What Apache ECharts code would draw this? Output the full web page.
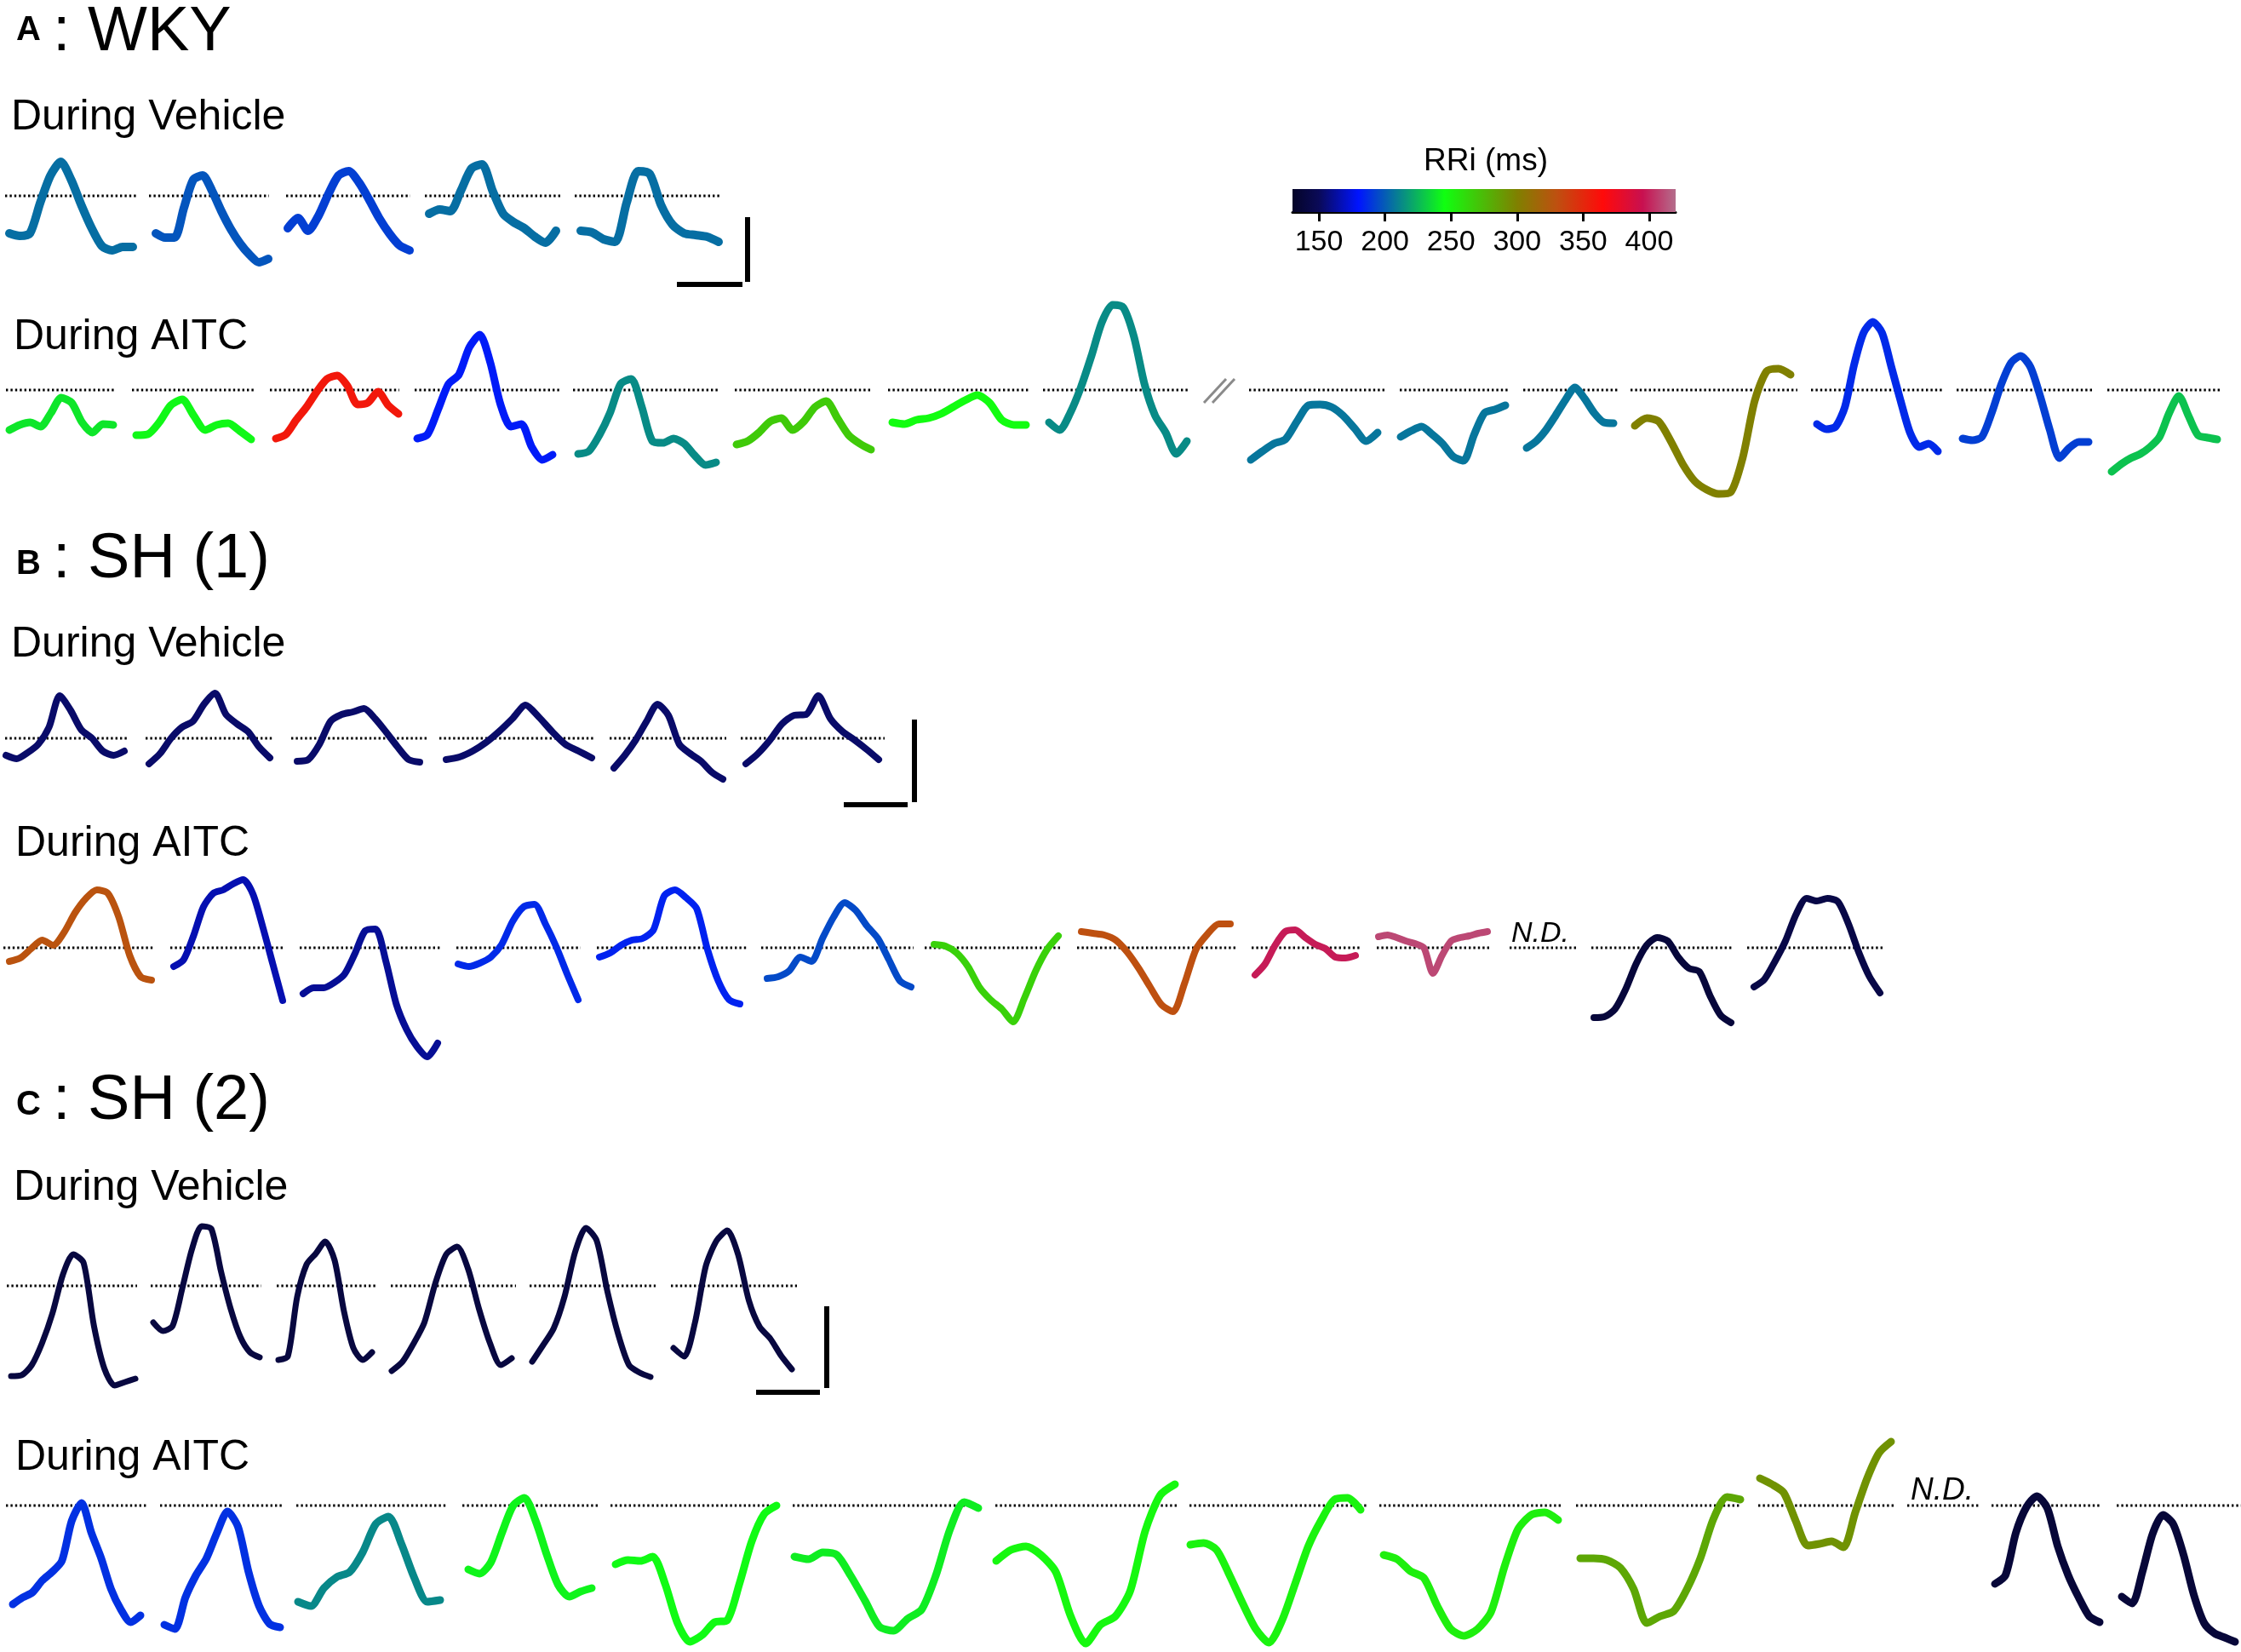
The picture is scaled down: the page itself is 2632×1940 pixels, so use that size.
<!DOCTYPE html>
<html><head><meta charset="utf-8">
<script src="https://cdn.jsdelivr.net/npm/echarts@6/dist/echarts.min.js"></script>
<style>html,body{margin:0;padding:0;background:#fff}#c{width:2632px;height:1940px}</style>
</head><body><div id="c"></div>
<script>
// ================= DATA =================
// Colour scale ticks (RRi, ms)
const rriTicks = [150, 200, 250, 300, 350, 400];
const rriMin = 130, rriMax = 420;

// Waveform amplitudes (relative to dotted baseline, up = positive) and RRi (ms) of each beat
// Panel A (WKY) - during vehicle
const aVehValues = [
  [-44,-47,-44,-8,24,40,19,-11,-38,-59,-64,-60,-60],
  [-44,-49,-49,-14,19,24,6,-18,-39,-56,-69,-78,-74],
  [-38,-26,-41,-24,2,24,29,16,-4,-26,-44,-58,-64],
  [-21,-16,-18,6,32,37,6,-21,-31,-38,-48,-55,-41],
  [-41,-43,-51,-54,-8,29,26,-11,-34,-44,-46,-48,-54]
];
const aVehRRi = [205, 198, 192, 205, 205];

// Panel A (WKY) - during AITC
const aAitcValues = [
  [-47,-41,-38,-43,-27,-9,-15,-38,-50,-40,-41],
  [-53,-52,-38,-18,-11,-30,-47,-41,-39,-48,-58],
  [-57,-52,-35,-20,-2,13,17,5,-17,-15,-2,-18,-28],
  [-57,-52,-23,7,18,50,65,33,-17,-43,-40,-67,-82,-76],
  [-75,-72,-53,-27,7,13,-20,-60,-62,-57,-63,-77,-88,-85],
  [-64,-60,-50,-37,-33,-47,-37,-20,-13,-33,-53,-63,-70],
  [-38,-40,-35,-33,-28,-20,-12,-6,-15,-35,-41,-41],
  [-38,-47,-27,3,40,80,100,97,63,7,-30,-50,-75,-60],
  [-82,-72,-63,-58,-37,-18,-17,-20,-30,-45,-60,-50],
  [-55,-48,-43,-52,-63,-78,-83,-53,-27,-23,-18],
  [-68,-60,-47,-30,-12,3,-10,-27,-38,-39],
  [-42,-33,-37,-60,-87,-107,-117,-122,-120,-80,-13,22,25,18],
  [-40,-46,-43,-20,30,67,80,67,27,-13,-50,-67,-63,-72],
  [-57,-59,-55,-27,7,32,40,27,-7,-47,-80,-68,-61,-61],
  [-96,-87,-80,-75,-67,-55,-27,-7,-30,-53,-56,-58]
];
const aAitcRRi = [238, 243, 358, 182, 213, 268, 246, 213, 207, 207, 207, 300, 186, 192, 228];

// Panel B (SH 1) - during vehicle
const bVehValues = [
  [-20,-24,-17,-7,13,50,33,10,0,-15,-20,-15],
  [-30,-18,0,13,20,40,53,28,17,8,-10,-23],
  [-27,-25,-7,20,28,31,35,23,7,-10,-25,-28],
  [-25,-22,-15,-5,8,23,39,25,8,-7,-15,-23],
  [-35,-20,-2,20,40,27,-7,-18,-27,-40,-48],
  [-30,-18,-2,17,27,28,50,23,8,-2,-13,-25]
];
const bVehRRi = [153, 153, 153, 153, 153, 153];

// Panel B (SH 1) - during AITC
const bAitcValues = [
  [-16,-12,-1,9,3,18,41,58,68,64,36,-9,-34,-38],
  [-22,-14,14,48,64,68,75,80,63,24,-19,-62],
  [-54,-47,-47,-41,-31,-7,20,22,-16,-66,-96,-116,-128,-112],
  [-19,-22,-18,-11,4,31,48,51,28,1,-31,-61],
  [-11,-6,3,9,11,21,61,68,59,46,-2,-39,-61,-66],
  [-36,-34,-27,-11,-16,11,36,53,44,26,11,-14,-39,-46],
  [4,2,-6,-22,-46,-61,-72,-87,-59,-27,-2,14],
  [19,17,15,9,-5,-24,-46,-67,-75,-42,-2,16,28,28],
  [-32,-19,3,19,21,12,4,-1,-11,-12,-9],
  [13,15,12,8,5,0,-30,-9,8,12,14,17,19],
  [-82,-81,-72,-49,-19,3,12,8,-11,-24,-28,-56,-79,-88],
  [-46,-37,-16,8,39,58,55,58,54,28,-6,-34,-53]
];
const bAitcRRi = [328, 166, 161, 186, 184, 195, 265, 330, 398, 410, 138, 143];

// Panel C (SH 2) - during vehicle
const cVehValues = [
  [-106,-105,-93,-67,-32,13,37,27,-47,-97,-117,-113,-109],
  [-43,-53,-47,-3,43,70,67,17,-27,-60,-78,-84],
  [-87,-83,-13,25,38,52,30,-30,-73,-87,-78],
  [-100,-89,-68,-43,3,37,46,20,-27,-67,-93,-85],
  [-89,-70,-50,-13,40,68,53,-7,-57,-93,-102,-107],
  [-73,-83,-43,23,53,65,37,-17,-48,-62,-82,-98]
];
const cVehRRi = [140, 140, 140, 140, 140, 140];

// Panel C (SH 2) - during AITC
const cAitcValues = [
  [-116,-108,-102,-88,-78,-65,-18,3,-32,-62,-98,-122,-137,-129],
  [-140,-145,-108,-82,-62,-32,-7,-25,-78,-118,-139,-143],
  [-113,-118,-97,-84,-78,-55,-22,-13,-45,-85,-113,-111],
  [-75,-80,-67,-32,0,9,-18,-58,-93,-107,-101,-97],
  [-69,-64,-65,-60,-92,-138,-160,-152,-137,-135,-92,-42,-10,0],
  [-60,-63,-55,-58,-83,-112,-142,-147,-133,-122,-82,-28,4,-3],
  [-65,-52,-48,-58,-78,-130,-162,-140,-130,-100,-30,12,25],
  [-46,-44,-52,-82,-115,-145,-161,-135,-92,-48,-17,7,9,-5],
  [-58,-63,-77,-85,-118,-145,-153,-145,-125,-72,-28,-11,-8,-17],
  [-62,-62,-64,-73,-98,-138,-130,-124,-98,-62,-15,10,7],
  [32,25,15,-18,-47,-45,-42,-49,-8,32,62,75],
  [-92,-82,-32,-2,11,-3,-48,-82,-108,-130,-137],
  [-107,-115,-78,-33,-11,-22,-58,-105,-138,-150,-155,-160]
];
const cAitcRRi = [188, 188, 212, 242, 244, 240, 248, 250, 252, 283, 292, 137, 137];

// ================= LAYOUT (pixel positions) =================
const W = 2632, H = 1940;
const aVehSpans = [[11,156],[183,315],[338,481],[504,653],[682,844]];
const aVehDots  = [[6,160],[175,316],[336,482],[499,659],[675,847]];
const aAitcSpans = [[11,133],[160,295],[324,468],[490,649],[679,841],[865,1023],[1048,1205],[1232,1394],
  [1469,1618],[1645,1768],[1793,1895],[1920,2103],[2134,2276],[2305,2453],[2480,2604]];
const aAitcDots = [[7,135],[155,299],[317,469],[487,658],[673,845],[863,1025],[1043,1210],[1225,1396],
  [1467,1626],[1644,1773],[1789,1901],[1915,2111],[2127,2281],[2298,2457],[2475,2610]];
const bVehSpans = [[7,146],[175,317],[349,493],[524,695],[721,849],[876,1032]];
const bVehDots  = [[6,151],[171,321],[342,502],[516,698],[716,853],[870,1039]];
const bAitcSpans = [[11,178],[204,332],[356,514],[538,679],[704,869],[901,1070],[1097,1243],[1270,1445],
  [1474,1592],[1619,1747],[1872,2033],[2060,2208]];
const bAitcDots = [[4,180],[200,334],[352,517],[536,682],[701,877],[894,1073],[1086,1247],[1265,1452],
  [1470,1599],[1617,1751],[1773,1852],[1869,2035],[2052,2212]];
const cVehSpans = [[13,159],[180,305],[327,437],[460,601],[625,764],[791,930]];
const cVehDots  = [[8,161],[177,307],[325,441],[459,606],[622,770],[788,936]];
const cAitcSpans = [[15,165],[193,329],[350,517],[550,695],[723,912],[933,1149],[1170,1380],
  [1398,1598],[1625,1830],[1856,2044],[2067,2221],[2343,2466],[2492,2625]];
const cAitcDots = [[7,174],[188,331],[348,524],[543,702],[717,914],[931,1152],[1169,1382],
  [1397,1605],[1620,1835],[1851,2044],[2065,2225],[2240,2324],[2339,2468],[2486,2632]];

// base = baseline y (px), half = half-height of the row's plotting band (px = value units)
const rows = [
  {values:aVehValues,  rri:aVehRRi,  spans:aVehSpans,  dots:aVehDots,  base:230,  half:150, lw:10},
  {values:aAitcValues, rri:aAitcRRi, spans:aAitcSpans, dots:aAitcDots, base:458,  half:180, lw:9},
  {values:bVehValues,  rri:bVehRRi,  spans:bVehSpans,  dots:bVehDots,  base:867,  half:150, lw:8},
  {values:bAitcValues, rri:bAitcRRi, spans:bAitcSpans, dots:bAitcDots, base:1113, half:180, lw:8},
  {values:cVehValues,  rri:cVehRRi,  spans:cVehSpans,  dots:cVehDots,  base:1510, half:160, lw:7},
  {values:cAitcValues, rri:cAitcRRi, spans:cAitcSpans, dots:cAitcDots, base:1768, half:170, lw:9}
];

// colour map of the RRi scale
const rriStops = [
  [130,[5,5,40]],[150,[10,10,88]],[180,[0,20,255]],[245,[16,255,16]],
  [300,[128,128,0]],[330,[190,80,16]],[365,[255,10,10]],[395,[200,16,80]],[420,[180,110,140]]
];
function rriColor(v){
  if (v <= rriStops[0][0]) return 'rgb(' + rriStops[0][1].join(',') + ')';
  for (let i = 1; i < rriStops.length; i++){
    if (v <= rriStops[i][0]){
      const [a, ca] = rriStops[i-1], [b, cb] = rriStops[i];
      const t = (v - a) / (b - a);
      return 'rgb(' + ca.map((c, k) => Math.round(c + (cb[k] - c) * t)).join(',') + ')';
    }
  }
  return 'rgb(' + rriStops[rriStops.length-1][1].join(',') + ')';
}

// ================= CHART =================
const FONT = '"Liberation Sans", Arial, Helvetica, sans-serif';
const chart = echarts.init(document.getElementById('c'), null, {renderer:'canvas', width:W, height:H});
const grids = [], xAxes = [], yAxes = [], series = [];

rows.forEach((row, r) => {
  grids.push({left:0, top:row.base - row.half, width:W, height:2 * row.half,
    containLabel:false, outerBoundsMode:'none'});
  xAxes.push({gridIndex:r, type:'value', min:0, max:W, show:false});
  yAxes.push({gridIndex:r, type:'value', min:-row.half, max:row.half, show:false});
  row.dots.forEach(d => series.push({
    type:'line', xAxisIndex:r, yAxisIndex:r, data:[[d[0],0],[d[1],0]], symbol:'none',
    lineStyle:{color:'#000', width:3, type:[2.4,3]}, z:1, silent:true, clip:false
  }));
  row.values.forEach((vals, k) => {
    const [x0, x1] = row.spans[k], n = vals.length;
    series.push({
      type:'line', xAxisIndex:r, yAxisIndex:r, symbol:'none', smooth:0.25, silent:true, clip:false,
      data: vals.map((v, i) => [x0 + (x1 - x0) * i / (n - 1), v]),
      lineStyle:{color:rriColor(row.rri[k]), width:row.lw, cap:'round', join:'round'}, z:2
    });
  });
});

// colour bar
const cb = rows.length;
grids.push({left:1518, top:222, width:450, height:27, containLabel:false, outerBoundsMode:'none'});
xAxes.push({gridIndex:cb, type:'value', min:rriMin, max:rriMax, position:'bottom', offset:5,
  axisLine:{show:true, lineStyle:{color:'#000', width:3}},
  axisTick:{show:true, customValues:rriTicks, length:11, lineStyle:{color:'#000', width:3}},
  axisLabel:{show:true, customValues:rriTicks, fontSize:34, color:'#000', fontFamily:FONT, margin:14},
  splitLine:{show:false}});
yAxes.push({gridIndex:cb, type:'value', min:0, max:1, show:false});
const gradStops = rriStops.map(s => ({offset:(s[0]-rriMin)/(rriMax-rriMin), color:'rgb(' + s[1].join(',') + ')'}));
series.push({
  type:'custom', xAxisIndex:cb, yAxisIndex:cb, data:[[rriMin, rriMax]], encode:{x:[0,1]}, silent:true,
  renderItem:(params, api) => {
    const p0 = api.coord([api.value(0), 1]), p1 = api.coord([api.value(1), 0]);
    return {type:'rect', shape:{x:p0[0], y:p0[1], width:p1[0]-p0[0], height:p1[1]-p0[1]},
      style:{fill:new echarts.graphic.LinearGradient(0, 0, 1, 0, gradStops)}};
  }
});

function txt(text, x, y, size, weight, style, align){
  return {type:'text', silent:true, style:{text, x, y, fontSize:size, fontFamily:FONT,
    fontWeight:weight || 'normal', fontStyle:style || 'normal', fill:'#000',
    verticalAlign:'middle', align:align || 'left'}};
}
function seg(x1, y1, x2, y2, w, color){
  return {type:'line', silent:true, shape:{x1, y1, x2, y2}, style:{stroke:color || '#000', lineWidth:w}};
}

const graphics = [
  txt('A', 19, 36, 40, 'bold'), txt(': WKY', 62, 39, 74),
  txt('B', 19, 663, 40, 'bold'), txt(': SH (1)', 62, 658, 74),
  txt('C', 19, 1298, 40, 'bold'), txt(': SH (2)', 62, 1294, 74),
  txt('During Vehicle', 13, 138, 50), txt('During AITC', 16, 396, 50),
  txt('During Vehicle', 13, 757, 50), txt('During AITC', 18, 991, 50),
  txt('During Vehicle', 16, 1395, 50), txt('During AITC', 18, 1712, 50),
  txt('RRi (ms)', 1745, 190, 37, 'normal', 'normal', 'center'),
  txt('N.D.', 1775, 1097, 34, 'normal', 'italic'),
  txt('N.D.', 2244, 1751, 37, 'normal', 'italic'),
  // scale bars
  seg(878, 255, 878, 331, 6), seg(795, 334, 872, 334, 6),
  seg(1074, 845, 1074, 942, 6), seg(991, 945, 1066, 945, 6),
  seg(971, 1534, 971, 1630, 6), seg(888, 1635, 963, 1635, 6),
  // axis-break mark
  seg(1414, 473, 1440, 445, 3, '#8a8a8a'), seg(1424, 473, 1450, 445, 3, '#8a8a8a')
];

chart.setOption({
  animation:false,
  backgroundColor:'#fff',
  grid:grids, xAxis:xAxes, yAxis:yAxes, series:series,
  graphic:graphics
});
</script>
</body></html>
